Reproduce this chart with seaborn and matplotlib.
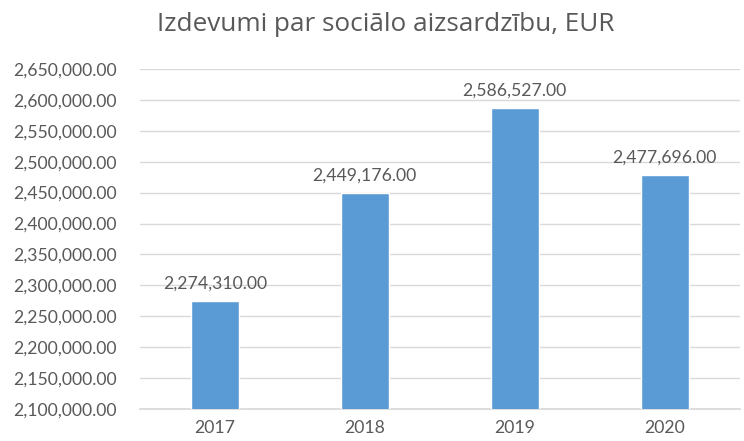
import matplotlib
matplotlib.use("Agg")
import matplotlib.pyplot as plt
import seaborn as sns
import pandas as pd
from matplotlib.ticker import FuncFormatter, MultipleLocator

# --- DATA ---
years = ["2017", "2018", "2019", "2020"]
expenses = [2274310.00, 2449176.00, 2586527.00, 2477696.00]

BAR_COLOR = "#5B9BD5"
TEXT_COLOR = "#595959"
GRID_COLOR = "#D9D9D9"

sns.set_theme(style="white")
plt.rcParams['font.family'] = ['Lato', 'DejaVu Sans']

df = pd.DataFrame({'year': years, 'value': expenses})

fig = plt.figure(figsize=(7.44, 4.41), dpi=100)
ax = fig.add_axes([0.188, 0.0726, 0.806, 0.771])

sns.barplot(data=df, x='year', y='value', color=BAR_COLOR, width=0.32,
            saturation=1, ax=ax, zorder=3)

ax.set_ylim(2100000, 2650000)
ax.yaxis.set_major_locator(MultipleLocator(50000))
ax.yaxis.set_major_formatter(FuncFormatter(lambda v, p: f"{v:,.2f}"))
ax.grid(axis='y', color=GRID_COLOR, linewidth=1, zorder=0)
ax.set_axisbelow(True)
for s in ['top', 'right', 'left']:
    ax.spines[s].set_visible(False)
ax.spines['bottom'].set_color(GRID_COLOR)
ax.tick_params(axis='both', length=0, colors=TEXT_COLOR, labelsize=12.7)
ax.tick_params(axis='y', pad=16.5)
ax.tick_params(axis='x', pad=8)
ax.set_xlabel("")
ax.set_ylabel("")

ax.bar_label(ax.containers[0], labels=[f"{v:,.2f}" for v in expenses],
             padding=7, fontsize=12.7, color=TEXT_COLOR)

fig.text(0.519, 0.945, "Izdevumi par sociālo aizsardzību, EUR", ha='center', va='center',
         fontsize=18.8, color=TEXT_COLOR, family=['Open Sans', 'DejaVu Sans'])

fig.savefig("out.png", dpi=100)
